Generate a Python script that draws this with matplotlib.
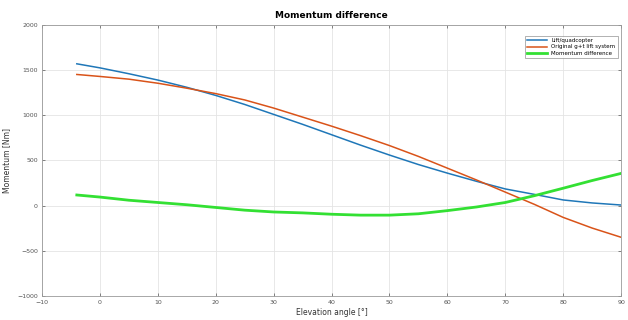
import numpy as np

import matplotlib.pyplot as plt

# Data (elevation angle in degrees, momentum in Nm)
angle = [-4, 0, 5, 10, 15, 20, 25, 30, 35, 40, 45, 50, 55, 60, 65, 70, 75, 80, 85, 90]
lift_quad = [1570, 1525, 1460, 1390, 1310, 1220, 1120, 1010, 900, 785,
             670, 560, 455, 360, 270, 185, 125, 63, 30, 7]
original = [1452, 1430, 1400, 1355, 1300, 1240, 1170, 1080, 980, 880,
            775, 665, 545, 415, 285, 150, 15, -130, -248, -350]
difference = [118, 95, 60, 35, 10, -20, -50, -70, -80, -95,
              -105, -105, -90, -55, -15, 35, 110, 193, 278, 357]

labels = ['Lift/quadcopter', 'Original g+t lift system', 'Momentum difference']

fig = plt.figure(figsize=(6.28, 3.2), dpi=100)
ax = fig.add_axes([0.067, 0.075, 0.922, 0.847])

ax.plot(angle, lift_quad, color='#1f77b8', lw=1.1, label=labels[0])
ax.plot(angle, original, color='#D95319', lw=1.1, label=labels[1])
ax.plot(angle, difference, color='#33e033', lw=2.0, label=labels[2])

ax.set_xlim(-10, 90)
ax.set_ylim(-1000, 2000)
ax.set_xticks(np.arange(-10, 91, 10))
ax.set_yticks(np.arange(-1000, 2001, 500))
ax.grid(True, color='#e4e4e4', lw=0.6)
ax.set_axisbelow(True)
ax.tick_params(direction='in', length=2.5, width=0.5, labelsize=4.5,
               colors='#555555', top=True, right=True, pad=3)
for s in ax.spines.values():
    s.set_color('#9a9a9a')
    s.set_linewidth(0.6)

ax.set_title('Momentum difference', fontsize=6.5, fontweight='bold', pad=5)
ax.set_xlabel('Elevation angle [\u00b0]', fontsize=5.5, color='#333333', labelpad=2)
ax.set_ylabel('Momentum [Nm]', fontsize=5.5, color='#333333', labelpad=4)

leg = ax.legend(loc='upper right', fontsize=4, frameon=True, fancybox=False,
                edgecolor='#777777', handlelength=3.5, borderpad=0.4,
                labelspacing=0.25, bbox_to_anchor=(0.999, 0.97))
leg.get_frame().set_linewidth(0.5)

plt.savefig('out.png', dpi=100)
